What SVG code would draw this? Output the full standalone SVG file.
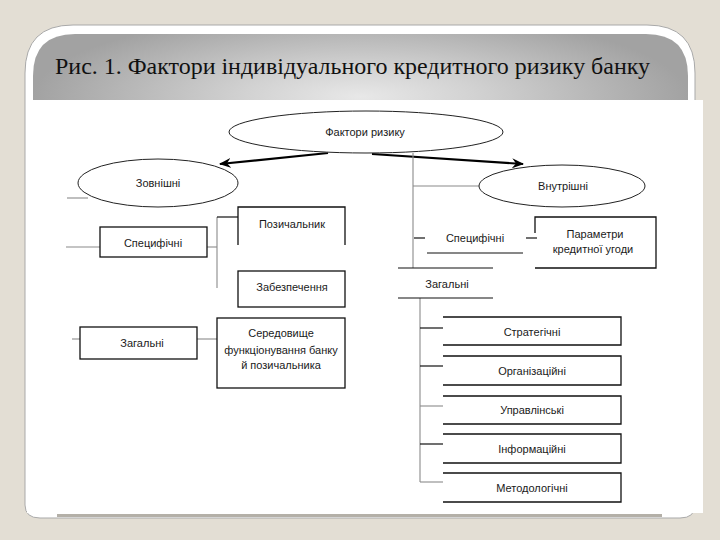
<svg xmlns="http://www.w3.org/2000/svg" width="720" height="540" viewBox="0 0 720 540">
  <defs>
    <radialGradient id="band" cx="0.5" cy="0.95" r="0.5" fx="0.5" fy="0.95" gradientTransform="translate(0.5,0.95) scale(1,2.6) translate(-0.5,-0.95)">
      <stop offset="0" stop-color="#e8e8e8"/>
      <stop offset="0.35" stop-color="#d2d2d2"/>
      <stop offset="1" stop-color="#a2a2a2"/>
    </radialGradient>
    <marker id="arr" viewBox="0 0 12 10" refX="11" refY="5" markerWidth="12" markerHeight="10" markerUnits="userSpaceOnUse" orient="auto">
      <path d="M0,0 L12,5 L0,10 L4,5 z" fill="#000"/>
    </marker>
    <style>
      .box { fill: none; stroke: #111; stroke-width: 1.3; }
      .ell { fill: #fff; stroke: #222; stroke-width: 1; }
      .con { fill: none; stroke: #8a8a8a; stroke-width: 1.1; }
      .dk { fill: none; stroke: #111; stroke-width: 1.2; }
      .arrow { fill: none; stroke: #000; stroke-width: 2.2; }
      .t { font-family: "Liberation Sans", Arial, sans-serif; font-size: 11px; fill: #1a1a1a; text-anchor: middle; }
      .title { font-family: "Liberation Serif", "Times New Roman", serif; font-size: 24px; fill: #111; }
    </style>
  </defs>

  <!-- background and card -->
  <rect x="0" y="0" width="720" height="540" fill="#e3ded4"/>
  <path d="M25,505 V73 Q25,25 73,25 H647 Q695,25 695,73 V505 Q695,518 680,518 H40 Q25,518 25,505 Z" fill="#fff" stroke="#a9a9a9" stroke-width="1"/>
  <path d="M33,100 V76 Q33,34 75,34 H646 Q688,34 688,76 V100 Z" fill="url(#band)"/>
  <line x1="57" y1="515.5" x2="662" y2="515.5" stroke="#b4b0a8" stroke-width="3"/>
  <rect x="27" y="100" width="676" height="413" fill="#fff"/>
  <text class="title" x="55" y="74" textLength="595" lengthAdjust="spacingAndGlyphs">Рис. 1. Фактори індивідуального кредитного ризику банку</text>

  <!-- connectors -->
  <g id="connectors">
    <line class="arrow" x1="328" y1="153" x2="220" y2="164" marker-end="url(#arr)"/>
    <line class="arrow" x1="372" y1="154" x2="523" y2="164" marker-end="url(#arr)"/>
    <!-- left side -->
    <line class="con" x1="67" y1="198" x2="88" y2="198"/>
    <line class="con" x1="66" y1="247" x2="100" y2="247"/>
    <line class="con" x1="72" y1="339" x2="80" y2="339"/>
    <line class="con" x1="207" y1="247" x2="217" y2="247"/>
    <line class="con" x1="217" y1="217" x2="217" y2="288"/>
    <line class="dk" x1="217" y1="217" x2="238" y2="217"/>
    <line class="con" x1="197" y1="339" x2="217" y2="339"/>
    <!-- right side -->
    <line class="con" x1="413" y1="153" x2="413" y2="268"/>
    <line class="con" x1="413" y1="186" x2="479" y2="186"/>
    <line class="dk" x1="414" y1="238" x2="425" y2="238"/>
    <line class="dk" x1="526" y1="238" x2="537" y2="238"/>
    <line class="con" x1="420" y1="298" x2="420" y2="482"/>
    <line class="dk" x1="420" y1="328" x2="443" y2="328"/>
    <line class="dk" x1="420" y1="366" x2="443" y2="366"/>
    <line class="con" x1="420" y1="406" x2="443" y2="406"/>
    <line class="dk" x1="420" y1="444" x2="443" y2="444"/>
    <line class="con" x1="420" y1="482" x2="443" y2="482"/>
  </g>

  <!-- nodes -->
  <g id="n-factors">
    <ellipse class="ell" cx="366" cy="132" rx="137" ry="21"/>
    <text class="t" x="365" y="136">Фактори ризику</text>
  </g>
  <g id="n-external">
    <ellipse class="ell" cx="158" cy="183" rx="80" ry="24"/>
    <text class="t" x="158" y="187">Зовнішні</text>
  </g>
  <g id="n-internal">
    <ellipse class="ell" cx="562" cy="186" rx="83" ry="21"/>
    <text class="t" x="563" y="190">Внутрішні</text>
  </g>
  <g id="n-ext-specific">
    <rect class="box" x="100" y="227" width="107" height="30"/>
    <text class="t" x="153" y="247">Специфічні</text>
  </g>
  <g id="n-borrower">
    <path class="box" d="M238,245 V207 H345 V245"/>
    <text class="t" x="292" y="228">Позичальник</text>
  </g>
  <g id="n-collateral">
    <rect class="box" x="238" y="271" width="107" height="36"/>
    <text class="t" x="292" y="291">Забезпечення</text>
  </g>
  <g id="n-ext-general">
    <rect class="box" x="80" y="327" width="117" height="32"/>
    <text class="t" x="142" y="347">Загальні</text>
  </g>
  <g id="n-environment">
    <rect class="box" x="217" y="318" width="128" height="70"/>
    <text class="t" x="281" y="337">Середовище</text>
    <text class="t" x="281" y="354">функціонування банку</text>
    <text class="t" x="281" y="369">й позичальника</text>
  </g>
  <g id="n-int-specific">
    <line class="dk" x1="427" y1="253" x2="523" y2="253"/>
    <text class="t" x="475" y="242">Специфічні</text>
  </g>
  <g id="n-params">
    <path class="box" d="M535,233 V217 H656 V268 H535"/>
    <text class="t" x="595" y="238">Параметри</text>
    <text class="t" x="593" y="253">кредитної угоди</text>
  </g>
  <g id="n-int-general">
    <line class="dk" x1="398" y1="268" x2="493" y2="268"/>
    <line class="dk" x1="398" y1="298" x2="493" y2="298"/>
    <text class="t" x="447" y="288">Загальні</text>
  </g>
  <g id="n-strategic">
    <path class="box" d="M443,317 H621 V345 H443"/>
    <text class="t" x="532" y="336">Стратегічні</text>
  </g>
  <g id="n-organizational">
    <path class="box" d="M443,356 H621 V385 H443"/>
    <text class="t" x="532" y="375">Організаційні</text>
  </g>
  <g id="n-managerial">
    <path class="box" d="M443,396 H621 V424 H443"/>
    <text class="t" x="532" y="414">Управлінські</text>
  </g>
  <g id="n-informational">
    <path class="box" d="M443,434 H621 V463 H443"/>
    <text class="t" x="532" y="453">Інформаційні</text>
  </g>
  <g id="n-methodological">
    <path class="box" d="M443,473 H621 V502 H443"/>
    <text class="t" x="532" y="492">Методологічні</text>
  </g>
</svg>
